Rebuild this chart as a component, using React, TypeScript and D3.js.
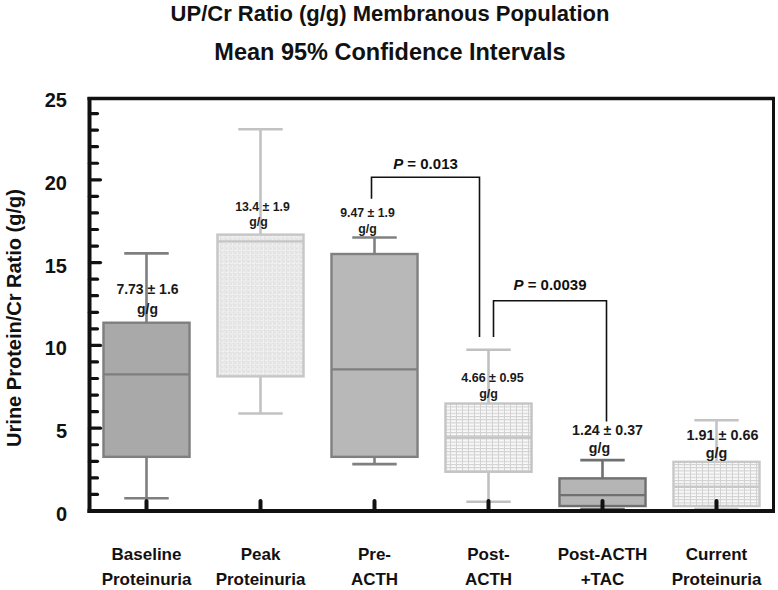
import React from "react";
import * as d3 from "d3";

const categories: string[][] = [
  ["Baseline", "Proteinuria"],
  ["Peak", "Proteinuria"],
  ["Pre-", "ACTH"],
  ["Post-", "ACTH"],
  ["Post-ACTH", "+TAC"],
  ["Current", "Proteinuria"],
];
const upperWhisker = [15.56, 23.05, 16.52, 9.74, 3.07, 5.48];
const q3 = [11.37, 16.69, 15.52, 6.49, 1.97, 2.97];
const median = [8.25, 16.28, 8.55, 4.44, 0.96, 1.46];
const q1 = [3.27, 8.13, 3.27, 2.37, 0.3, 0.3];
const lowerWhisker = [0.77, 5.89, 2.83, 0.56, 0.12, 0.12];
const meanLabels = ["7.73 ± 1.6", "13.4 ± 1.9", "9.47 ± 1.9", "4.66 ± 0.95", "1.24 ± 0.37", "1.91 ± 0.66"];
const unitLabel = "g/g";
const yTicks = [0, 5, 10, 15, 20, 25];
const pValues = ["0.013", "0.0039"];

// styling per box (not data)
const boxStyles = [
  { fill: "#a9a9a9", stroke: "#7f7f7f", whisker: "#7f7f7f" },
  { fill: "url(#dotPat)", stroke: "#c6c6c6", whisker: "#c2c2c2" },
  { fill: "#b8b8b8", stroke: "#808080", whisker: "#808080" },
  { fill: "url(#gridPat)", stroke: "#c4c4c4", whisker: "#c0c0c0" },
  { fill: "#b5b5b5", stroke: "#707070", whisker: "#707070" },
  { fill: "url(#gridPat)", stroke: "#c8c8c8", whisker: "#c4c4c4" },
];
// label layout: [dx line1, dx line2, y line1 (value), y line2 (value), font size]
const labelLayout = [
  { dx1: 1, dx2: 1, v1: 13.4, v2: 12.2, fs: 14 },
  { dx1: 2, dx2: -2, v1: 18.4, v2: 17.45, fs: 12.3 },
  { dx1: -7, dx2: -7, v1: 18.0, v2: 17.05, fs: 12.3 },
  { dx1: 4, dx2: 0, v1: 8.05, v2: 7.1, fs: 12.5 },
  { dx1: 5, dx2: -3, v1: 4.9, v2: 3.8, fs: 14.2 },
  { dx1: 6, dx2: 0, v1: 4.6, v2: 3.5, fs: 14.4 },
];

const W = 778;
const H = 590;
const left = 89.5;
const right = 773.5;
const top = 97;
const bottom = 511;

export default function App() {
  const x = d3.scaleBand<number>().domain(d3.range(categories.length)).range([left, right]).padding(0);
  const y = d3.scaleLinear().domain([0, 25]).range([bottom, top]);
  const bw = x.bandwidth() * 0.755;
  const cw = x.bandwidth() * 0.39;
  const cx = (i: number) => (x(i) as number) + x.bandwidth() / 2;
  const minor = d3.range(1, 25);
  const font = "'Liberation Sans', Arial, Helvetica, sans-serif";
  const narrow = "'Liberation Sans Narrow', 'Liberation Sans', Arial, sans-serif";

  // bracket geometry in data/scale terms
  const b1 = { x1: cx(2) - 3, x2: cx(3) - 9, yTop: y(20.15), y1: y(18.85), y2: y(10.5) };
  const b2 = { x1: cx(3) + 5, x2: cx(4) + 4, yTop: y(12.7), y1: y(10.5), y2: y(5.4) };

  return (
    <svg width={W} height={H} style={{ position: "absolute", left: 0, top: 0, background: "#fff" }} fontFamily={font}>
      <defs>
        <pattern id="dotPat" width="4.4" height="4.4" patternUnits="userSpaceOnUse">
          <rect width="4.4" height="4.4" fill="#f2f2f2" />
          <rect x="1.2" y="1.2" width="2" height="2" fill="#dcdcdc" />
          <line x1="0" y1="0" x2="4.4" y2="0" stroke="#d8d8d8" strokeWidth="0.8" />
          <line x1="0" y1="0" x2="0" y2="4.4" stroke="#d4d4d4" strokeWidth="0.8" />
        </pattern>
        <pattern id="gridPat" width="6" height="3.2" patternUnits="userSpaceOnUse">
          <rect width="6" height="3.2" fill="#f8f8f8" />
          <line x1="0" y1="0.5" x2="6" y2="0.5" stroke="#cfcfcf" strokeWidth="1" />
          <line x1="0.5" y1="0" x2="0.5" y2="3.2" stroke="#d2d2d2" strokeWidth="1" />
        </pattern>
      </defs>

      {/* Title */}
      <text x={390} y={21} textAnchor="middle" fontSize={22} fontWeight="bold" fill="#111">
        UP/Cr Ratio (g/g) Membranous Population
      </text>
      <text x={390} y={60} textAnchor="middle" fontSize={23.5} fontWeight="bold" fill="#111">
        Mean 95% Confidence Intervals
      </text>

      {/* Y axis label */}
      <text transform={`translate(21,${318}) rotate(-90)`} textAnchor="middle" fontSize={20} fontWeight="bold" fill="#111">
        Urine Protein/Cr Ratio (g/g)
      </text>

      {/* Y tick labels */}
      {yTicks.map((t) => (
        <text key={t} x={67} y={y(t) + 10} textAnchor="end" fontSize={20} fontWeight="bold" fill="#111">
          {t}
        </text>
      ))}

      {/* Boxes */}
      {categories.map((_, i) => {
        const s = boxStyles[i];
        const c = cx(i);
        return (
          <g key={i}>
            <line x1={c} x2={c} y1={y(upperWhisker[i])} y2={y(lowerWhisker[i])} stroke={s.whisker} strokeWidth={2.6} />
            <line x1={c - cw / 2} x2={c + cw / 2} y1={y(upperWhisker[i])} y2={y(upperWhisker[i])} stroke={s.whisker} strokeWidth={2.6} />
            <line x1={c - cw / 2} x2={c + cw / 2} y1={y(lowerWhisker[i])} y2={y(lowerWhisker[i])} stroke={s.whisker} strokeWidth={2.6} />
            <rect x={c - bw / 2} y={y(q3[i])} width={bw} height={y(q1[i]) - y(q3[i])} fill={s.fill} stroke={s.stroke} strokeWidth={2.4} />
            <line x1={c - bw / 2} x2={c + bw / 2} y1={y(median[i])} y2={y(median[i])} stroke={s.stroke} strokeWidth={2.4} />
          </g>
        );
      })}

      {/* Mean labels */}
      {categories.map((_, i) => {
        const l = labelLayout[i];
        const c = cx(i);
        return (
          <g key={i} fontWeight="bold" fill="#1a1a1a" fontSize={l.fs} textAnchor="middle">
            <text x={c + l.dx1} y={y(l.v1)} dy="0.35em">{meanLabels[i]}</text>
            <text x={c + l.dx2} y={y(l.v2)} dy="0.35em">{unitLabel}</text>
          </g>
        );
      })}

      {/* Brackets */}
      <path d={`M${b1.x1},${b1.y1}V${b1.yTop}H${b1.x2}V${b1.y2}`} fill="none" stroke="#111" strokeWidth={1.6} />
      <path d={`M${b2.x1},${b2.y2 - (b2.y2 - b1.y2) }V${b2.yTop}H${b2.x2}V${b2.y2}`} fill="none" stroke="#111" strokeWidth={1.6} />
      <text x={(b1.x1 + b1.x2) / 2} y={b1.yTop - 14} dy="0.35em" textAnchor="middle" fontSize={15} fontWeight="bold" fill="#111">
        <tspan fontStyle="italic">P</tspan> = {pValues[0]}
      </text>
      <text x={(b2.x1 + b2.x2) / 2} y={b2.yTop - 16} dy="0.35em" textAnchor="middle" fontSize={15} fontWeight="bold" fill="#111">
        <tspan fontStyle="italic">P</tspan> = {pValues[1]}
      </text>

      {/* Frame */}
      <line x1={left - 2} x2={right + 1.5} y1={top + 1.5} y2={top + 1.5} stroke="#111" strokeWidth={3.5} />
      <line x1={right} x2={right} y1={top} y2={bottom} stroke="#111" strokeWidth={3} />
      <line x1={left} x2={left} y1={top} y2={bottom + 2} stroke="#111" strokeWidth={4} />
      <line x1={left - 2} x2={right + 1.5} y1={bottom} y2={bottom} stroke="#111" strokeWidth={4} />

      {/* Y ticks (inward) */}
      {minor.map((t) => (
        <line key={t} x1={left} x2={left + (t % 5 === 0 ? 11 : 8)} y1={y(t)} y2={y(t)} stroke="#111" strokeWidth={3.2} strokeLinecap="round" />
      ))}

      {/* X ticks (inward) */}
      {categories.map((_, i) => (
        <line key={i} x1={cx(i)} x2={cx(i)} y1={bottom} y2={bottom - 10} stroke="#111" strokeWidth={4} strokeLinecap="round" />
      ))}

      {/* X labels */}
      {categories.map((lines, i) => (
        <text key={i} x={cx(i)} textAnchor="middle" fontSize={17} fontWeight="bold" fontFamily={narrow} fill="#111">
          {lines.map((ln, j) => (
            <tspan key={j} x={cx(i)} y={560 + j * 25}>
              {ln}
            </tspan>
          ))}
        </text>
      ))}
    </svg>
  );
}
